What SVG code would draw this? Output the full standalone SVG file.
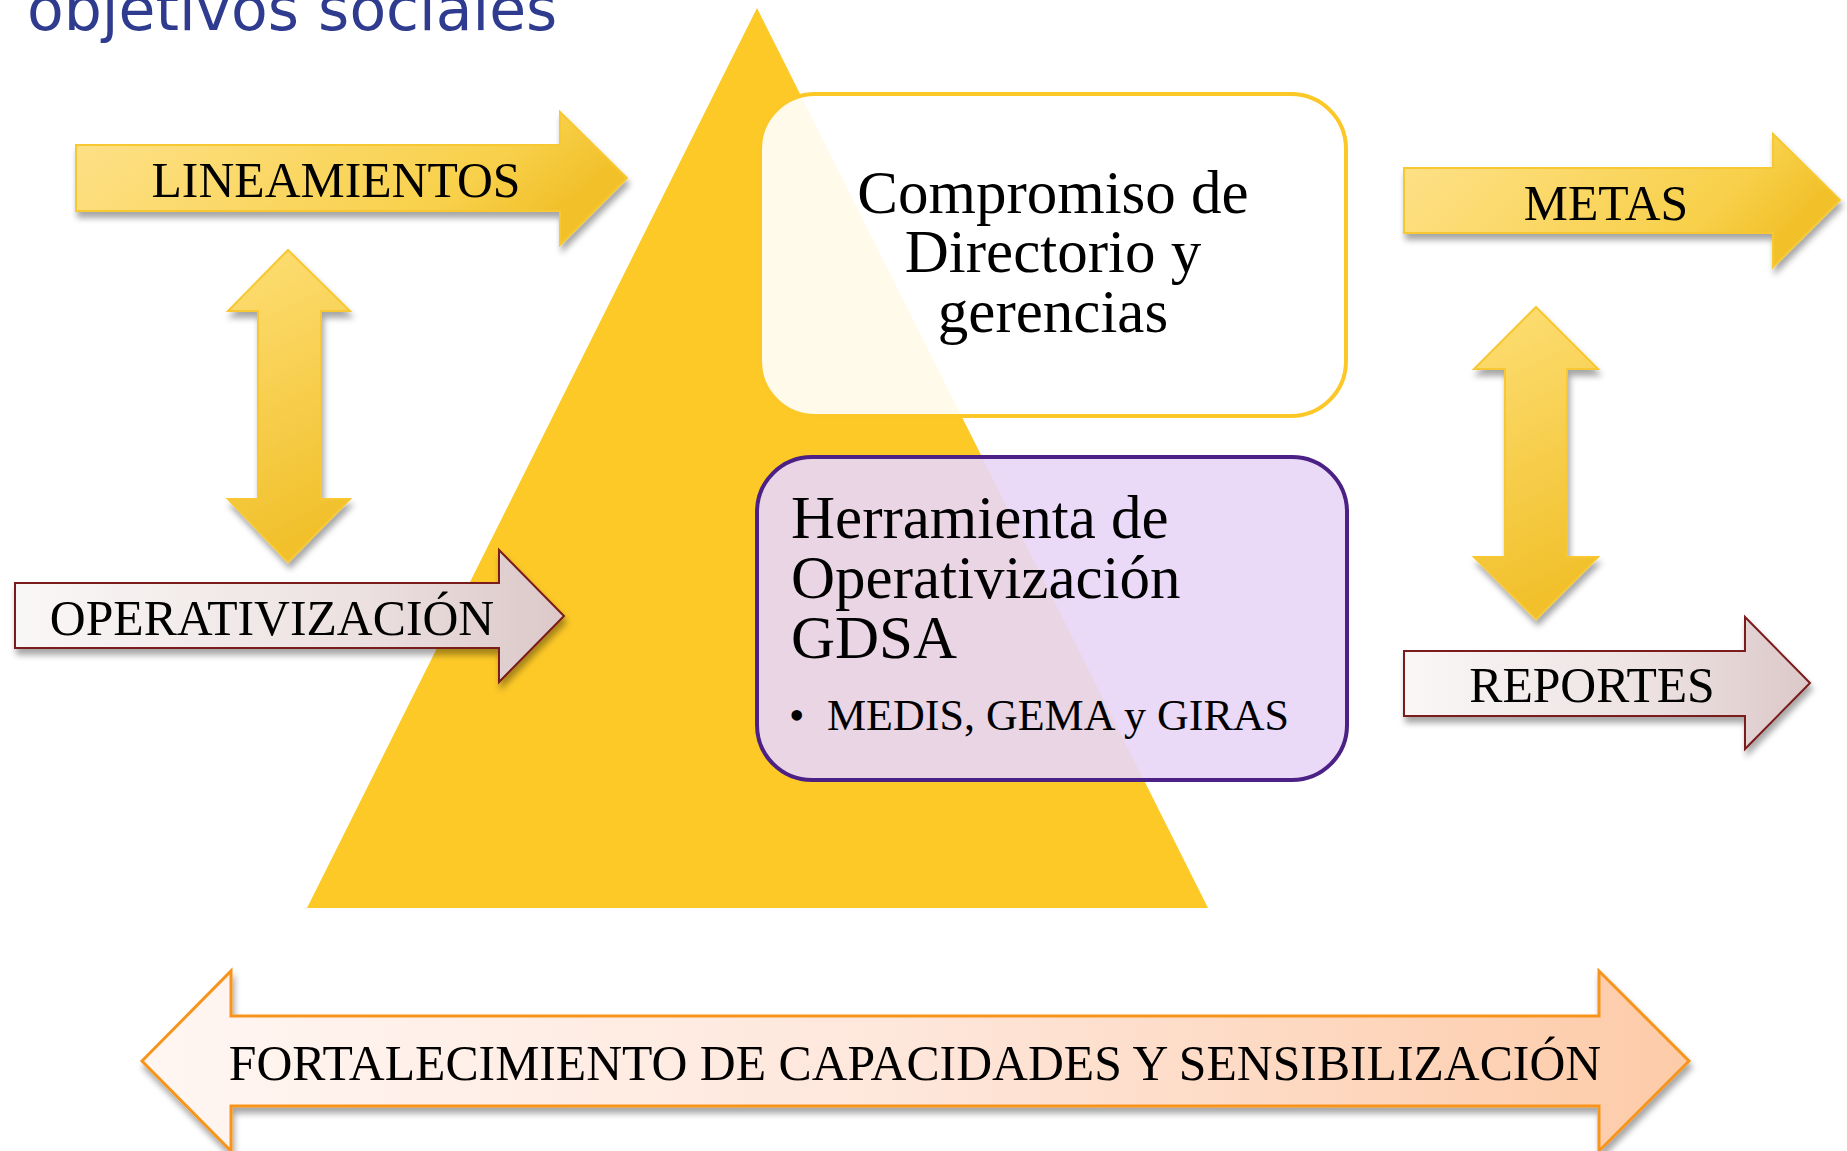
<svg xmlns="http://www.w3.org/2000/svg" width="1847" height="1151" viewBox="0 0 1847 1151">
<style>
.lbl{font-family:"Liberation Serif","Times New Roman",serif;font-size:49.7px;fill:#000;text-anchor:middle}
.box{font-family:"Liberation Serif","Times New Roman",serif;font-size:61px;fill:#000}
.yel{stroke:#F7C830;stroke-width:2}
.red{stroke:#7A1A1A;stroke-width:2}
</style>
<defs>
<linearGradient id="gy" x1="0" y1="0" x2="1" y2="0.3">
<stop offset="0" stop-color="#FEE28C"/><stop offset="0.8" stop-color="#F8D04A"/><stop offset="1" stop-color="#F2C12C"/>
</linearGradient>
<linearGradient id="gv" x1="0" y1="0" x2="0.2" y2="1">
<stop offset="0" stop-color="#FEDF76"/><stop offset="1" stop-color="#F1C02B"/>
</linearGradient>
<linearGradient id="gr" x1="0" y1="0" x2="1" y2="0">
<stop offset="0" stop-color="#F9F7F6"/><stop offset="0.6" stop-color="#EDE2E2"/><stop offset="1" stop-color="#DCC8C9"/>
</linearGradient>
<linearGradient id="go" x1="0" y1="0" x2="1" y2="0">
<stop offset="0" stop-color="#FFF6F2"/><stop offset="0.5" stop-color="#FEE6DA"/><stop offset="1" stop-color="#FDCBA8"/>
</linearGradient>
<filter id="sh" x="-10%" y="-20%" width="130%" height="150%">
<feDropShadow dx="2" dy="6" stdDeviation="3" flood-color="#000" flood-opacity="0.35"/>
</filter>
</defs>

<text x="27" y="30" font-family="'DejaVu Sans',Verdana,sans-serif" font-size="60" fill="#2E3B8F">objetivos sociales</text>

<g id="piramide">
<polygon points="757,8 1208,908 307,908" fill="#FCC927"/>
</g>

<g id="compromiso">
<rect x="760" y="94" width="586" height="322" rx="55" ry="55" fill="#FFFFFF" fill-opacity="0.9" stroke="#FCC827" stroke-width="4"/>
<text class="box" text-anchor="middle"><tspan x="1053" y="213">Compromiso de</tspan><tspan x="1053" y="272">Directorio y</tspan><tspan x="1053" y="332">gerencias</tspan></text>
</g>

<g id="herramienta">
<rect x="757" y="457" width="590" height="323" rx="55" ry="55" fill="#E8D6F7" fill-opacity="0.91" stroke="#4B2185" stroke-width="4"/>
<text class="box" font-size="62"><tspan x="791" y="538">Herramienta de</tspan><tspan x="791" y="598">Operativización</tspan><tspan x="791" y="658">GDSA</tspan></text>
<text font-family="'Liberation Serif','Times New Roman',serif" font-size="44" fill="#000"><tspan x="789" y="730">•</tspan><tspan x="827" y="730">MEDIS, GEMA y GIRAS</tspan></text>
</g>

<g id="connectors">
<g id="lineamientos" filter="url(#sh)">
<polygon points="76,145 560,145 560,112 627,178 560,245 560,211 76,211" fill="url(#gy)" class="yel"/>
<text class="lbl" x="336" y="197">LINEAMIENTOS</text>
</g>
<g id="metas" filter="url(#sh)">
<polygon points="1404,168 1773,168 1773,134 1840,200 1773,267 1773,233 1404,233" fill="url(#gy)" class="yel"/>
<text class="lbl" x="1606" y="220">METAS</text>
</g>
<g id="flecha-izq" filter="url(#sh)">
<polygon points="288,250 350,311 321,311 321,499 350,499 288,562 228,499 258,499 258,311 228,311" fill="url(#gv)" class="yel"/>
</g>
<g id="flecha-der" filter="url(#sh)">
<polygon points="1536,307 1598,369 1567,369 1567,557 1598,557 1536,619 1474,557 1505,557 1505,369 1474,369" fill="url(#gv)" class="yel"/>
</g>
<g id="operativizacion" filter="url(#sh)">
<polygon points="15,583 499,583 499,550 564,616 499,682 499,648 15,648" fill="url(#gr)" class="red"/>
<text class="lbl" x="272" y="635">OPERATIVIZACIÓN</text>
</g>
<g id="reportes" filter="url(#sh)">
<polygon points="1404,651 1745,651 1745,617 1810,683 1745,749 1745,716 1404,716" fill="url(#gr)" class="red"/>
<text class="lbl" x="1592" y="702">REPORTES</text>
</g>
<g id="fortalecimiento" filter="url(#sh)">
<polygon points="142,1061 231,971 231,1016 1599,1016 1599,971 1689,1061 1599,1151 1599,1106 231,1106 231,1151" fill="url(#go)" stroke="#F7941D" stroke-width="3"/>
<text class="lbl" x="915" y="1080">FORTALECIMIENTO DE CAPACIDADES Y SENSIBILIZACIÓN</text>
</g>
</g>
</svg>
